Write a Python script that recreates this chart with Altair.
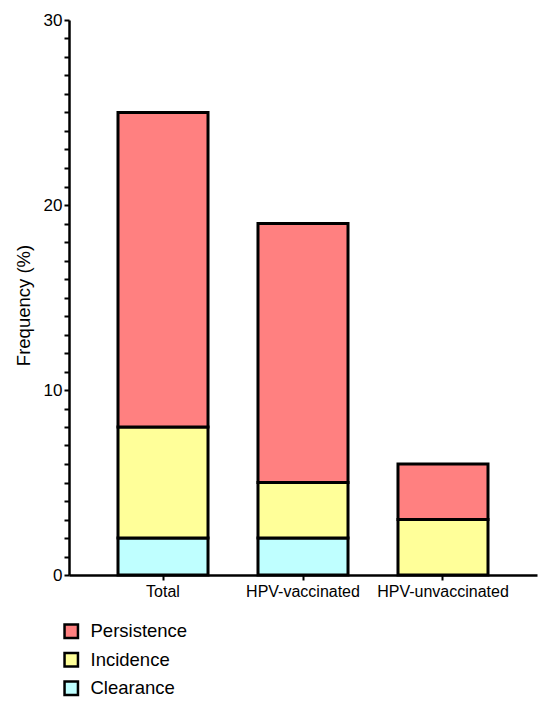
import altair as alt
import pandas as pd

groups = ["Total", "HPV-vaccinated", "HPV-unvaccinated"]
clearance = [2, 2, 0]
incidence = [6, 3, 3]
persistence = [17, 14, 3]

categories = ["Persistence", "Incidence", "Clearance"]
colors = ["#FF8080", "#FFFF99", "#BFFFFF"]
stack_order = {"Clearance": 0, "Incidence": 1, "Persistence": 2}

rows = []
for g, c, i, p in zip(groups, clearance, incidence, persistence):
    for cat, v in (("Clearance", c), ("Incidence", i), ("Persistence", p)):
        if v > 0:
            rows.append({"group": g, "category": cat, "value": v, "ord": stack_order[cat]})
df = pd.DataFrame(rows)

FONT = "Liberation Sans"

chart = alt.Chart(df).mark_bar(stroke="black", strokeWidth=3).encode(
    x=alt.X(
        "group:N",
        sort=groups,
        scale=alt.Scale(paddingInner=0.357, paddingOuter=0.35),
        axis=alt.Axis(
            title=None, labelAngle=0, labelFontSize=16, labelPadding=3,
            tickSize=5, tickWidth=2, domainWidth=2.5,
        ),
    ),
    y=alt.Y(
        "value:Q",
        stack="zero",
        scale=alt.Scale(domain=[0, 30], nice=False),
        axis=alt.Axis(
            title="Frequency (%)",
            values=list(range(0, 31)),
            labelExpr="datum.value % 10 == 0 ? datum.label : ''",
            labelFontSize=17, labelPadding=2, tickSize=5, tickWidth=2,
            domainWidth=2.5, titleFontSize=18.5, titleFontWeight="normal",
            titlePadding=10, titleY=285,
        ),
    ),
    color=alt.Color(
        "category:N",
        scale=alt.Scale(domain=categories, range=colors),
        legend=alt.Legend(
            title=None, orient="none", legendX=-7, legendY=602,
            symbolType="square", symbolSize=180, symbolStrokeColor="black",
            symbolStrokeWidth=2.5, symbolOpacity=1, labelFontSize=18.5,
            labelOffset=10, rowPadding=4.5, padding=0,
        ),
    ),
    order=alt.Order("ord:Q"),
).properties(
    width=468,
    height=555,
    autosize=alt.AutoSizeParams(type="none"),
    padding={"left": 61, "top": 12, "right": 5, "bottom": 122},
).configure_view(
    stroke=None
).configure_axis(
    grid=False, domainColor="black", tickColor="black", labelColor="black",
    titleColor="black", labelFont=FONT, titleFont=FONT,
).configure_legend(
    labelFont=FONT, labelColor="black",
)

chart.save("out.html", embed_options={"renderer": "svg", "actions": False})
